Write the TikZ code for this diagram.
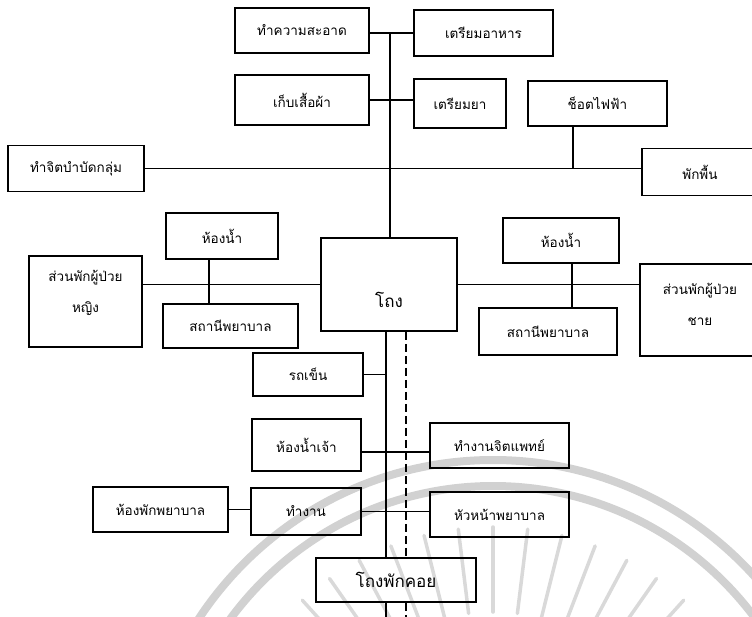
\documentclass[tikz,border=0pt]{standalone}
\usepackage{fontspec}
\newfontfamily\thai[Script=Thai]{Loma}
% one box of the plan: name, centre x, centre y, width, height, text
\newcommand\planbox[6]{\node[box,minimum width=#4pt,minimum height=#5pt] (#1) at (#2,#3) {#6};}
\begin{document}
\begin{tikzpicture}[x=1pt,y=-1pt,
  box/.style={draw,line width=1.6pt,rectangle,inner sep=0pt,align=center,
    font=\thai\fontsize{13.5}{31}\selectfont},
  txt/.style={font=\thai\fontsize{13.5}{31}\selectfont,align=center},
  bigtxt/.style={font=\thai\fontsize{17}{20}\selectfont},
  link/.style={line width=1.8pt},
  dashlink/.style={line width=1.6pt,dash pattern=on 8pt off 4pt},
  wmarc/.style={draw=black!18,line width=8pt},
  wmray/.style={draw=black!15,line width=3.5pt,line cap=round}]
\useasboundingbox (0,0) rectangle (752,617);
\clip (0,0) rectangle (752,617);

% faint seal in the background
\draw[wmarc] (493,812) circle[radius=352pt];
\draw[wmarc] (493,812) circle[radius=326pt];
\foreach \a in {34,41,...,146}
  \draw[wmray] ({493+200*cos(\a)},{812-200*sin(\a)}) -- ({493+285*cos(\a)},{812-285*sin(\a)});

% rooms
\planbox{clean}{302}{30.5}{134}{45}{ทำความสะอาด}
\planbox{food}{483.5}{33}{139}{46}{เตรียมอาหาร}
\planbox{clothes}{302}{100}{134}{50}{เก็บเสื้อผ้า}
\planbox{med}{460}{103.5}{92}{49}{เตรียมยา}
\planbox{shock}{597.5}{103.5}{139}{45}{ช็อตไฟฟ้า}
\planbox{group}{76}{168.5}{136}{46}{ทำจิตบำบัดกลุ่ม}
\node[box,minimum width=118pt,minimum height=47pt,
  label={[txt,xshift=-1pt]center:พักพื้น}] (rest) at (701,172) {};
\planbox{wcL}{222}{236}{112}{46}{ห้องน้ำ}
\node[box,minimum width=113pt,minimum height=91pt,
  label={[txt,yshift=9pt]center:ส่วนพักผู้ป่วย\\หญิง}] (female) at (85.5,301.5) {};
\node[box,minimum width=136pt,minimum height=93pt,
  label={[bigtxt,yshift=-15pt]center:โถง}] (hall) at (389,284.5) {};
\planbox{stationL}{230.5}{326}{135}{44}{สถานีพยาบาล}
\planbox{cart}{308}{374.5}{110}{43}{รถเข็น}
\planbox{wcR}{561}{240.5}{116}{45}{ห้องน้ำ}
\planbox{stationR}{548}{331.5}{138}{47}{สถานีพยาบาล}
\node[box,minimum width=120pt,minimum height=92pt,
  label={[txt,yshift=6pt]center:ส่วนพักผู้ป่วย\\ชาย}] (male) at (700,310) {};
\planbox{staffwc}{306.5}{445}{109}{52}{ห้องน้ำเจ้า}
\planbox{psych}{499.5}{445.5}{139}{45}{ทำงานจิตแพทย์}
\planbox{nurseroom}{160.5}{509.5}{135}{45}{ห้องพักพยาบาล}
\planbox{work}{306}{511.5}{110}{47}{ทำงาน}
\planbox{head}{499.5}{514.5}{139}{45}{หัวหน้าพยาบาล}
\node[box,minimum width=160pt,minimum height=44pt,
  label={[bigtxt]center:โถงพักคอย}] (lounge) at (396,580) {};

% main corridor lines
\coordinate (ttop) at (390,33);
\coordinate (tlow) at (386,625);
\coordinate (dlow) at (406,625);
\draw[link] (ttop) -- (ttop |- hall.north);
\draw[link] (hall.south -| tlow) -- (lounge.north -| tlow);
\draw[link] (lounge.south -| tlow) -- (tlow);
\draw[dashlink] (hall.south -| dlow) -- (lounge.north -| dlow);
\draw[dashlink] (lounge.south -| dlow) -- (dlow);

% branches
\draw[link] (clean.east |- food.west) -- (food.west);
\draw[link] (clothes.east) -- (clothes.east -| med.west);
\draw[link] (group.east) -- (group.east -| rest.west);
\draw[link] ([xshift=-24.5pt]shock.south) -- ([xshift=-24.5pt]shock.south |- group.east);
\draw[link] (female.east |- hall.west) -- (hall.west);
\draw[link] ([xshift=-13pt]wcL.south) -- ([xshift=-13pt]wcL.south |- stationL.north);
\draw[link] (hall.east) -- (hall.east -| male.west);
\draw[link] ([xshift=11pt]wcR.south) -- ([xshift=11pt]wcR.south |- stationR.north);
\draw[link] (cart.east) -- (cart.east -| tlow);
\draw[link] ([yshift=-7pt]staffwc.east) -- ([yshift=-7pt]staffwc.east -| psych.west);
\draw[link] (nurseroom.east) -- (nurseroom.east -| work.west);
\draw[link] (work.east) -- (work.east -| head.west);
\end{tikzpicture}
\end{document}
